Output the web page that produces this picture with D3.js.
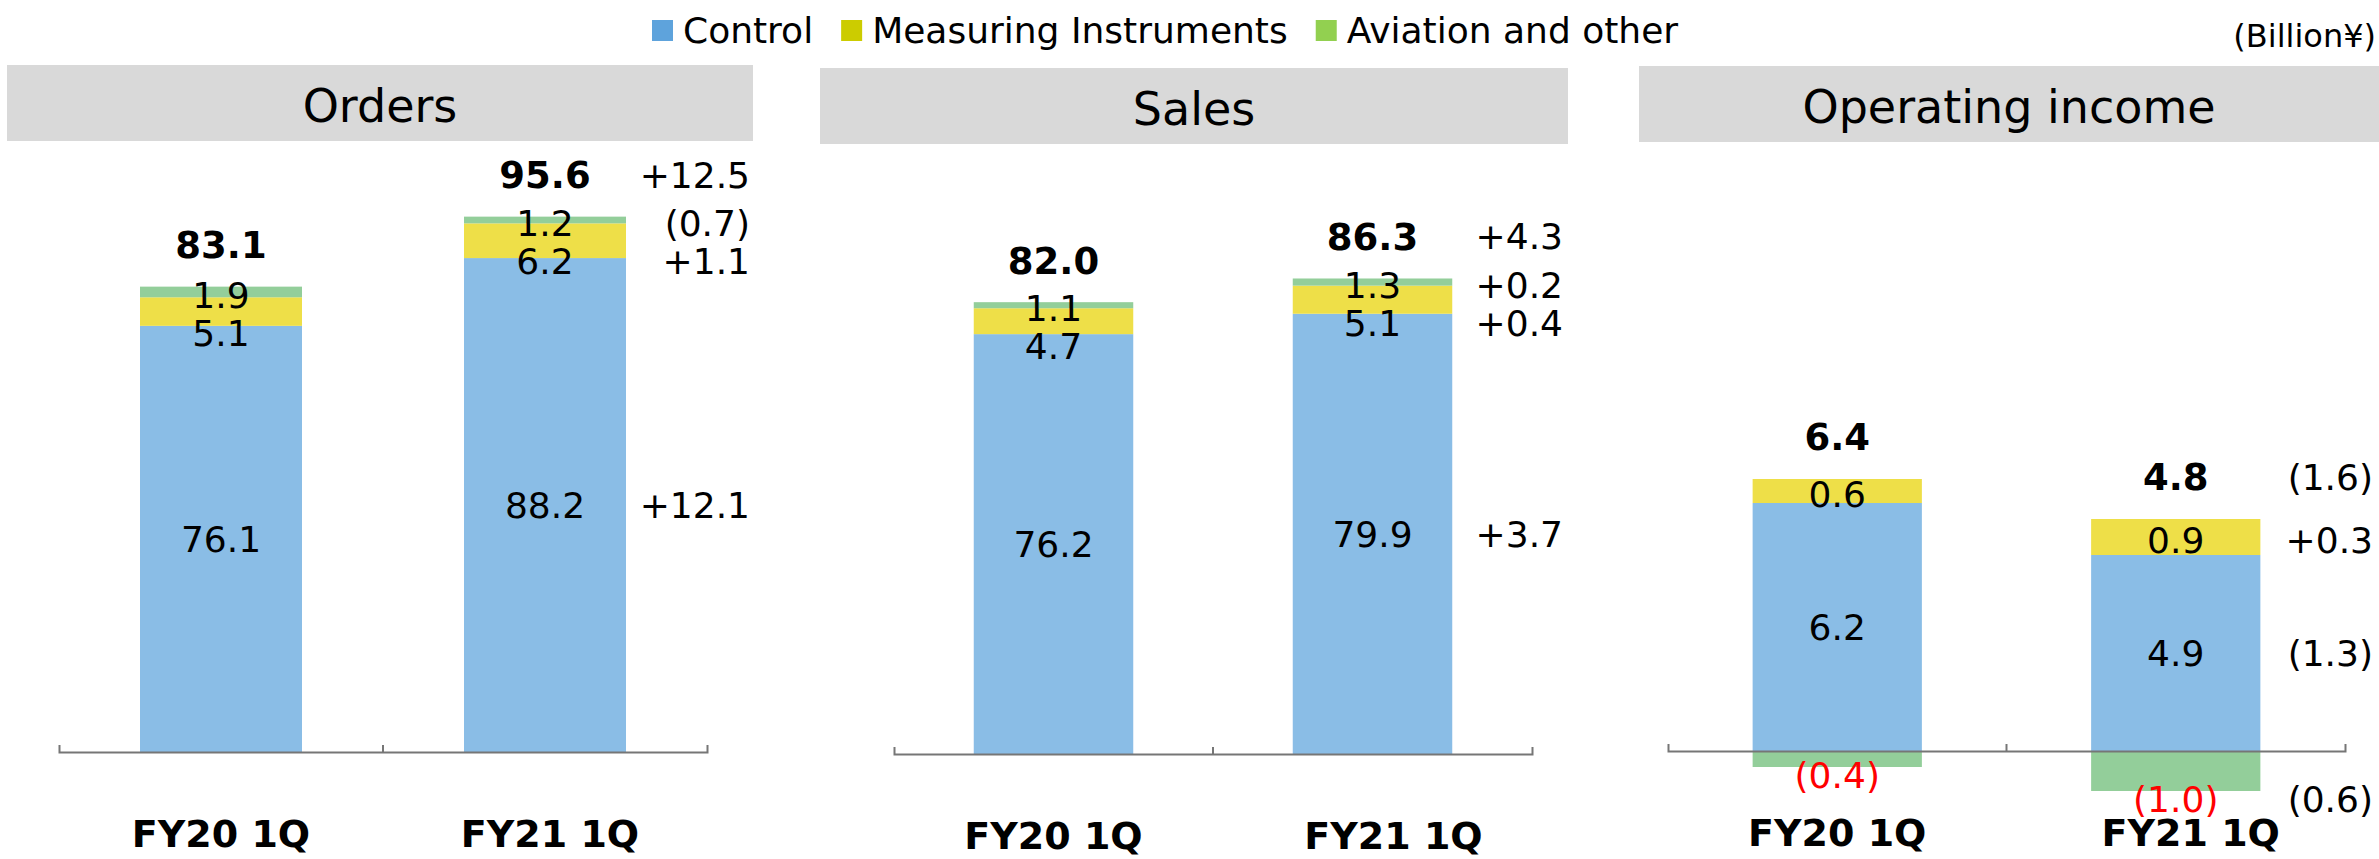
<!DOCTYPE html>
<html>
<head>
<meta charset="utf-8">
<script src="https://cdn.jsdelivr.net/npm/d3@7"></script>
<style>
body { margin: 0; background: #fff; }
text { font-family: "DejaVu Sans", sans-serif; fill: #000; }
</style>
</head>
<body>
<svg id="chart" width="2379" height="859"></svg>
<script>
var categories = ["FY20 1Q", "FY21 1Q"];
var panelTitles = ["Orders", "Sales", "Operating income"];
var seriesNames = ["Control", "Measuring Instruments", "Aviation and other"];

// one row per panel: [FY20 1Q, FY21 1Q]
var controlValues = [[76.1, 88.2], [76.2, 79.9], [6.2, 4.9]];
var measuringValues = [[5.1, 6.2], [4.7, 5.1], [0.6, 0.9]];
var aviationValues = [[1.9, 1.2], [1.1, 1.3], [-0.4, -1.0]];
var totalValues = [[83.1, 95.6], [82.0, 86.3], [6.4, 4.8]];

// year on year change, one per panel
var totalChange = [12.5, 4.3, -1.6];
var controlChange = [12.1, 3.7, -1.3];
var measuringChange = [1.1, 0.4, 0.3];
var aviationChange = [-0.7, 0.2, -0.6];

var legendColors = ["#5ea3dc", "#cccc00", "#92d050"];
var barColors = ["#8abde6", "#eedf48", "#93ce9a"];

var layout = [
    {box: [7, 753], top: 65, axis: [59, 707], base: 752, ppu: 5.6, dx: 5, right: 3},
    {box: [820, 1568], top: 68, axis: [894, 1532], base: 754, ppu: 5.51, dx: 21, right: 5},
    {box: [1639, 2379], top: 66, axis: [1668, 2345], base: 751, ppu: 40, dx: 15, right: 6}
];

var labelSize = 36;

function fmt(v) {
    return v < 0 ? "(" + Math.abs(v).toFixed(1) + ")" : v.toFixed(1);
}

function fmtChange(v) {
    return v < 0 ? "(" + Math.abs(v).toFixed(1) + ")" : "+" + v.toFixed(1);
}

var svg = d3.select("#chart");

// legend
var lx = 652;
seriesNames.forEach(function (name, k) {
    svg.append("rect")
        .attr("x", lx).attr("y", 20)
        .attr("width", 21).attr("height", 21)
        .style("fill", legendColors[k]);
    var t = svg.append("text")
        .attr("x", lx + 31).attr("y", 43)
        .style("font-size", "36px")
        .text(name);
    lx += 31 + t.node().getComputedTextLength() + 28;
});

svg.append("text")
    .attr("x", 2376).attr("y", 47)
    .attr("text-anchor", "end")
    .style("font-size", "32px")
    .text("(Billion¥)");

var keys = ["control", "measuring", "aviation"];

panelTitles.forEach(function (title, i) {
    var L = layout[i];
    var g = svg.append("g");

    g.append("rect")
        .attr("x", L.box[0]).attr("y", L.top)
        .attr("width", L.box[1] - L.box[0]).attr("height", 76)
        .style("fill", "#d9d9d9");

    g.append("text")
        .attr("x", (L.box[0] + L.box[1]) / 2)
        .attr("y", L.top + 57)
        .attr("text-anchor", "middle")
        .style("font-size", "46px")
        .text(title);

    var rows = categories.map(function (c, j) {
        return {
            cat: c,
            control: controlValues[i][j],
            measuring: measuringValues[i][j],
            aviation: aviationValues[i][j]
        };
    });

    var stacked = d3.stack().keys(keys).offset(d3.stackOffsetDiverging)(rows);

    var x = d3.scaleBand()
        .domain(categories)
        .range(L.axis)
        .paddingInner(0.5)
        .paddingOuter(0.25);

    var y = d3.scaleLinear()
        .domain([0, 10])
        .range([L.base, L.base - 10 * L.ppu]);

    stacked.forEach(function (layer, k) {
        g.selectAll(null)
            .data(layer)
            .enter()
            .append("rect")
            .attr("x", function (d) { return x(d.data.cat); })
            .attr("width", x.bandwidth())
            .attr("y", function (d) { return Math.min(y(d[0]), y(d[1])); })
            .attr("height", function (d) { return Math.abs(y(d[0]) - y(d[1])); })
            .style("fill", barColors[k]);
    });

    // axis
    var axis = d3.axisBottom(x)
        .tickSize(0)
        .tickSizeOuter(-7)
        .tickPadding(68);

    var ax = g.append("g")
        .attr("transform", "translate(0," + L.base + ")")
        .call(axis);
    ax.select(".domain").style("stroke", "#767676").style("stroke-width", 2);
    ax.selectAll(".tick text")
        .style("font-size", "38px")
        .style("font-weight", "bold")
        .style("font-family", "'DejaVu Sans', sans-serif")
        .attr("dx", function (d, j) { return j === 1 ? L.dx : 0; });
    ax.append("line")
        .attr("x1", L.axis[0] + x.step()).attr("x2", L.axis[0] + x.step())
        .attr("y1", 0).attr("y2", -7)
        .style("stroke", "#767676").style("stroke-width", 2);

    // segment labels
    var labelY = categories.map(function () { return {}; });
    var totalY = [];
    categories.forEach(function (c, j) {
        var prev = null;
        var topEdge = L.base;
        for (var k = keys.length - 1; k >= 0; k--) {
            var d = stacked[k][j];
            var v = d.data[keys[k]];
            if (v <= 0) continue;
            var top = y(d[1]), bottom = y(d[0]);
            topEdge = Math.min(topEdge, top);
            var cy = (top + bottom) / 2;
            if (prev === null) cy += 3;
            else cy = Math.max(cy, prev + 38);
            labelY[j][keys[k]] = cy;
            prev = cy;
        }
        for (var k2 = 0; k2 < keys.length; k2++) {
            var d2 = stacked[k2][j];
            var v2 = d2.data[keys[k2]];
            if (v2 >= 0) continue;
            labelY[j][keys[k2]] = Math.max(y(d2[0]), y(d2[1])) + 8;
        }
        totalY.push(topEdge - 42);
    });

    categories.forEach(function (c, j) {
        var cx = x(c) + x.bandwidth() / 2;
        keys.forEach(function (key) {
            var v = rows[j][key];
            g.append("text")
                .attr("x", cx)
                .attr("y", labelY[j][key] + 0.36 * labelSize)
                .attr("text-anchor", "middle")
                .style("font-size", labelSize + "px")
                .style("fill", v < 0 ? "#ff0000" : "#000")
                .text(fmt(v));
        });
        g.append("text")
            .attr("x", cx)
            .attr("y", totalY[j] + 0.36 * 37)
            .attr("text-anchor", "middle")
            .style("font-size", "37px")
            .style("font-weight", "bold")
            .text(totalValues[i][j].toFixed(1));
    });

    // change column, aligned with the FY21 labels
    var changes = {
        control: controlChange[i],
        measuring: measuringChange[i],
        aviation: aviationChange[i]
    };
    keys.forEach(function (key) {
        g.append("text")
            .attr("x", L.box[1] - L.right)
            .attr("y", labelY[1][key] + 0.36 * labelSize)
            .attr("text-anchor", "end")
            .style("font-size", labelSize + "px")
            .text(fmtChange(changes[key]));
    });
    g.append("text")
        .attr("x", L.box[1] - L.right)
        .attr("y", totalY[1] + 0.36 * labelSize)
        .attr("text-anchor", "end")
        .style("font-size", labelSize + "px")
        .text(fmtChange(totalChange[i]));
});
</script>
</body>
</html>
